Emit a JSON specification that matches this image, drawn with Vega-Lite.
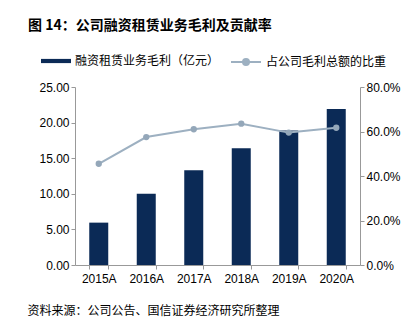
{
  "$schema": "https://vega.github.io/schema/vega-lite/v6.json",
  "width": 285,
  "height": 178,
  "autosize": "none",
  "padding": {"left": 75, "top": 87, "right": 56, "bottom": 62},
  "background": "white",
  "title": {
    "text": "图 14：公司融资租赁业务毛利及贡献率",
    "anchor": "start",
    "frame": "group",
    "dx": -47,
    "offset": 13,
    "font": "Noto Sans CJK SC",
    "fontSize": 14,
    "fontWeight": "bold",
    "color": "#000000"
  },
  "data": {
    "values": [
      {"year": "2015A", "profit": 5.95, "ratio": 0.455},
      {"year": "2016A", "profit": 10.0, "ratio": 0.575},
      {"year": "2017A", "profit": 13.3, "ratio": 0.61},
      {"year": "2018A", "profit": 16.4, "ratio": 0.635},
      {"year": "2019A", "profit": 18.9, "ratio": 0.595},
      {"year": "2020A", "profit": 21.9, "ratio": 0.617}
    ]
  },
  "encoding": {
    "x": {
      "field": "year",
      "type": "nominal",
      "scale": {"paddingInner": 0.6, "paddingOuter": 0.3},
      "axis": {
        "title": "资料来源：公司公告、国信证券经济研究所整理",
        "titleFont": "Noto Sans CJK SC",
        "titleFontSize": 12,
        "titleFontWeight": "normal",
        "titleColor": "#000000",
        "titleAnchor": "start",
        "titleAlign": "left",
        "titleBaseline": "middle",
        "titleX": -48,
        "titleY": 45,
        "labelAngle": 0,
        "labelFont": "Liberation Sans",
        "labelFontSize": 12,
        "labelColor": "#000000",
        "labelPadding": 4,
        "tickBand": "extent",
        "tickSize": 4,
        "tickColor": "#999999",
        "domainColor": "#999999"
      }
    }
  },
  "layer": [
    {
      "mark": {"type": "bar", "color": "#0b2a56"},
      "encoding": {
        "y": {
          "field": "profit",
          "type": "quantitative",
          "scale": {"domain": [0, 25]},
          "axis": {
            "title": null,
            "values": [0, 5, 10, 15, 20, 25],
            "format": ".2f",
            "grid": false,
            "labelFont": "Liberation Sans",
            "labelFontSize": 12,
            "labelColor": "#000000",
            "tickSize": 4,
            "tickColor": "#999999",
            "domainColor": "#999999"
          }
        },
        "fill": {
          "datum": "融资租赁业务毛利（亿元）",
          "scale": {"range": ["#0b2a56"]},
          "legend": {
            "orient": "none",
            "legendX": -34,
            "legendY": -41,
            "title": null,
            "symbolType": "M-1,-0.14H1V0.14H-1Z",
            "symbolSize": 900,
            "symbolStrokeWidth": 0,
            "labelFont": "Noto Sans CJK SC",
            "labelFontSize": 12,
            "labelColor": "#000000",
            "labelOffset": 4
          }
        }
      }
    },
    {
      "mark": {"type": "line", "color": "#9db0c1", "strokeWidth": 2},
      "encoding": {
        "y": {
          "field": "ratio",
          "type": "quantitative",
          "scale": {"domain": [0, 0.8]},
          "axis": {
            "orient": "right",
            "title": null,
            "values": [0, 0.2, 0.4, 0.6, 0.8],
            "format": ".1%",
            "grid": false,
            "labelFont": "Liberation Sans",
            "labelFontSize": 12,
            "labelColor": "#000000",
            "tickSize": 4,
            "tickColor": "#999999",
            "domainColor": "#999999"
          }
        },
        "stroke": {
          "datum": "占公司毛利总额的比重",
          "scale": {"range": ["#9db0c1"]},
          "legend": {
            "orient": "none",
            "legendX": 155,
            "legendY": -41,
            "title": null,
            "symbolType": "M-1,0H1M0.2,0A0.2,0.2,0,1,1,-0.2,0A0.2,0.2,0,1,1,0.2,0Z",
            "symbolSize": 900,
            "symbolStrokeWidth": 2,
            "symbolFillColor": "#9db0c1",
            "labelFont": "Noto Sans CJK SC",
            "labelFontSize": 12,
            "labelColor": "#000000",
            "labelOffset": 4
          }
        }
      }
    },
    {
      "mark": {"type": "point", "filled": true, "color": "#94a7b9", "size": 40, "opacity": 1},
      "encoding": {
        "y": {"field": "ratio", "type": "quantitative", "scale": {"domain": [0, 0.8]}, "axis": null}
      }
    }
  ],
  "resolve": {"scale": {"y": "independent"}},
  "config": {"view": {"stroke": null}}
}
